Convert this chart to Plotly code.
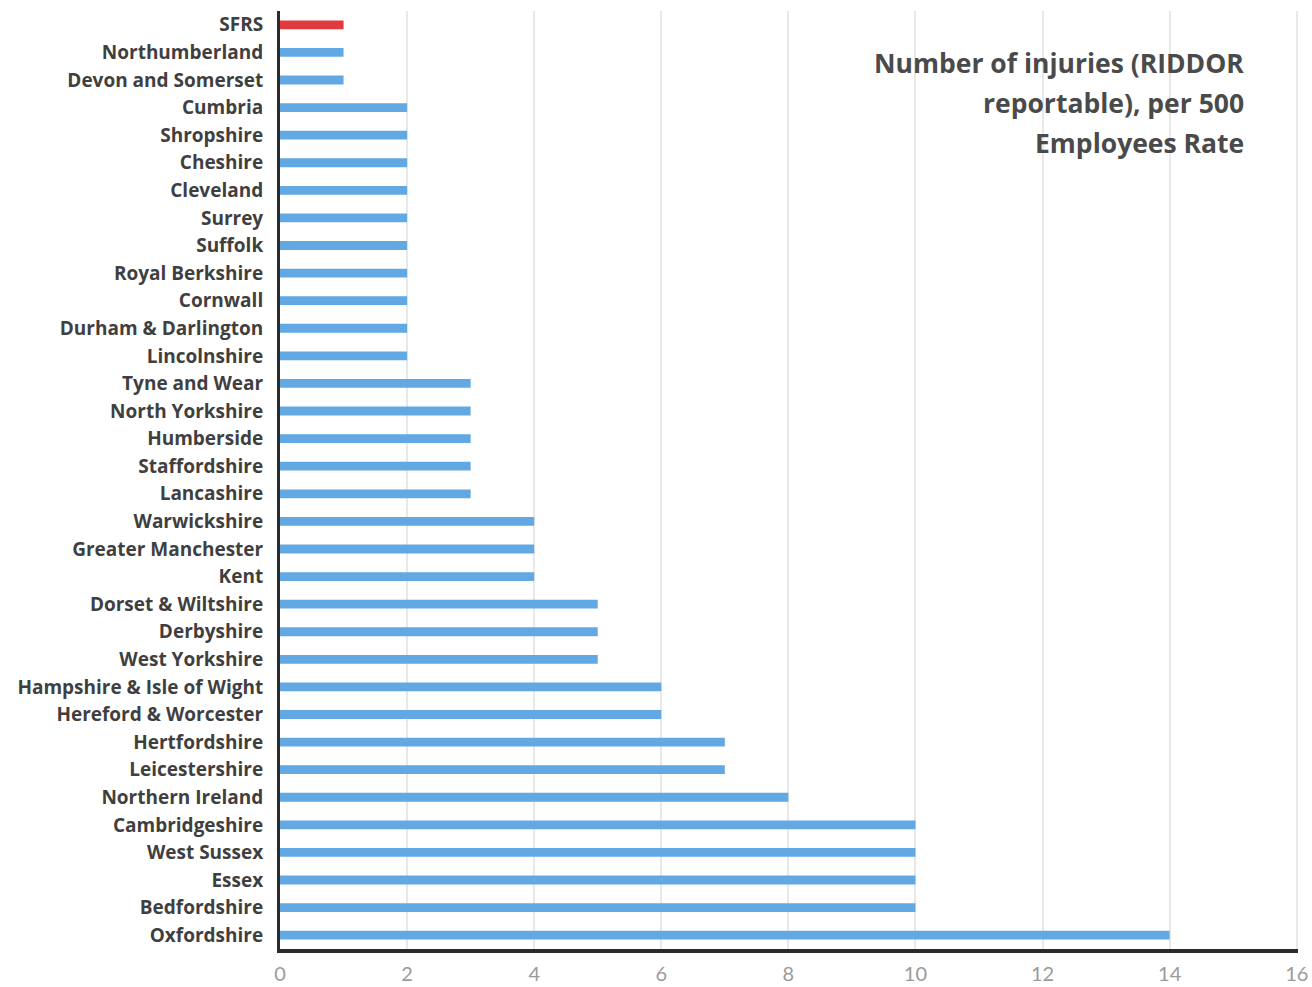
import plotly.graph_objects as go

categories = ["SFRS", "Northumberland", "Devon and Somerset", "Cumbria", "Shropshire",
              "Cheshire", "Cleveland", "Surrey", "Suffolk", "Royal Berkshire", "Cornwall",
              "Durham & Darlington", "Lincolnshire", "Tyne and Wear", "North Yorkshire",
              "Humberside", "Staffordshire", "Lancashire", "Warwickshire", "Greater Manchester",
              "Kent", "Dorset & Wiltshire", "Derbyshire", "West Yorkshire",
              "Hampshire & Isle of Wight", "Hereford & Worcester", "Hertfordshire",
              "Leicestershire", "Northern Ireland", "Cambridgeshire", "West Sussex", "Essex",
              "Bedfordshire", "Oxfordshire"]
values = [1, 1, 1, 2, 2, 2, 2, 2, 2, 2, 2, 2, 2, 3, 3, 3, 3, 3, 4, 4, 4, 5, 5, 5,
          6, 6, 7, 7, 8, 10, 10, 10, 10, 14]
highlight = "SFRS"
x_ticks = [0, 2, 4, 6, 8, 10, 12, 14, 16]
title_lines = ["Number of injuries (RIDDOR", "reportable), per 500", "Employees Rate"]

W, H = 1312, 987
ML, MR, MT, MB = 280, 14, 11, 38
PW, PH = W - ML - MR, H - MT - MB

colors = ["#E0393E" if c == highlight else "#62A9E3" for c in categories]

fig = go.Figure(go.Bar(
    x=values, y=categories, orientation="h",
    marker=dict(color=colors, line=dict(width=0)),
    hoverinfo="x+y",
))

annotations = []
for i, line in enumerate(title_lines):
    yc = 63 + 40 * i  # pixel centre of the line
    annotations.append(dict(
        text=line, xref="paper", yref="paper",
        x=(1246 - ML) / PW, y=(H - MB - yc) / PH,
        xanchor="right", yanchor="middle", showarrow=False,
        font=dict(size=26.5, color="#4A4A4A", family="Open Sans, sans-serif", weight="bold"),
    ))

fig.update_layout(
    width=W, height=H,
    margin=dict(l=ML, r=MR, t=MT, b=MB, autoexpand=False),
    paper_bgcolor="white", plot_bgcolor="white",
    bargap=0.68,
    showlegend=False,
    font=dict(family="Lato, sans-serif"),
    xaxis=dict(
        range=[0, 16.02], tickvals=x_ticks, ticktext=[str(t) for t in x_ticks],
        showgrid=True, gridcolor="#E8E8E8", gridwidth=2,
        zeroline=False, showline=True, linecolor="#2B2B2B", linewidth=4,
        tickfont=dict(size=20, color="#9A9A9A", family="Lato, sans-serif"),
        ticks="", ticklabelstandoff=4, automargin=False,
    ),
    yaxis=dict(
        autorange="reversed", showgrid=False, zeroline=False,
        showline=True, linecolor="#2B2B2B", linewidth=3,
        tickfont=dict(size=19, color="#3F3F3F", family="Open Sans, sans-serif", weight="bold"),
        ticks="", ticklabelstandoff=10, automargin=False,
    ),
    annotations=annotations,
)

fig.write_html("out.html")
